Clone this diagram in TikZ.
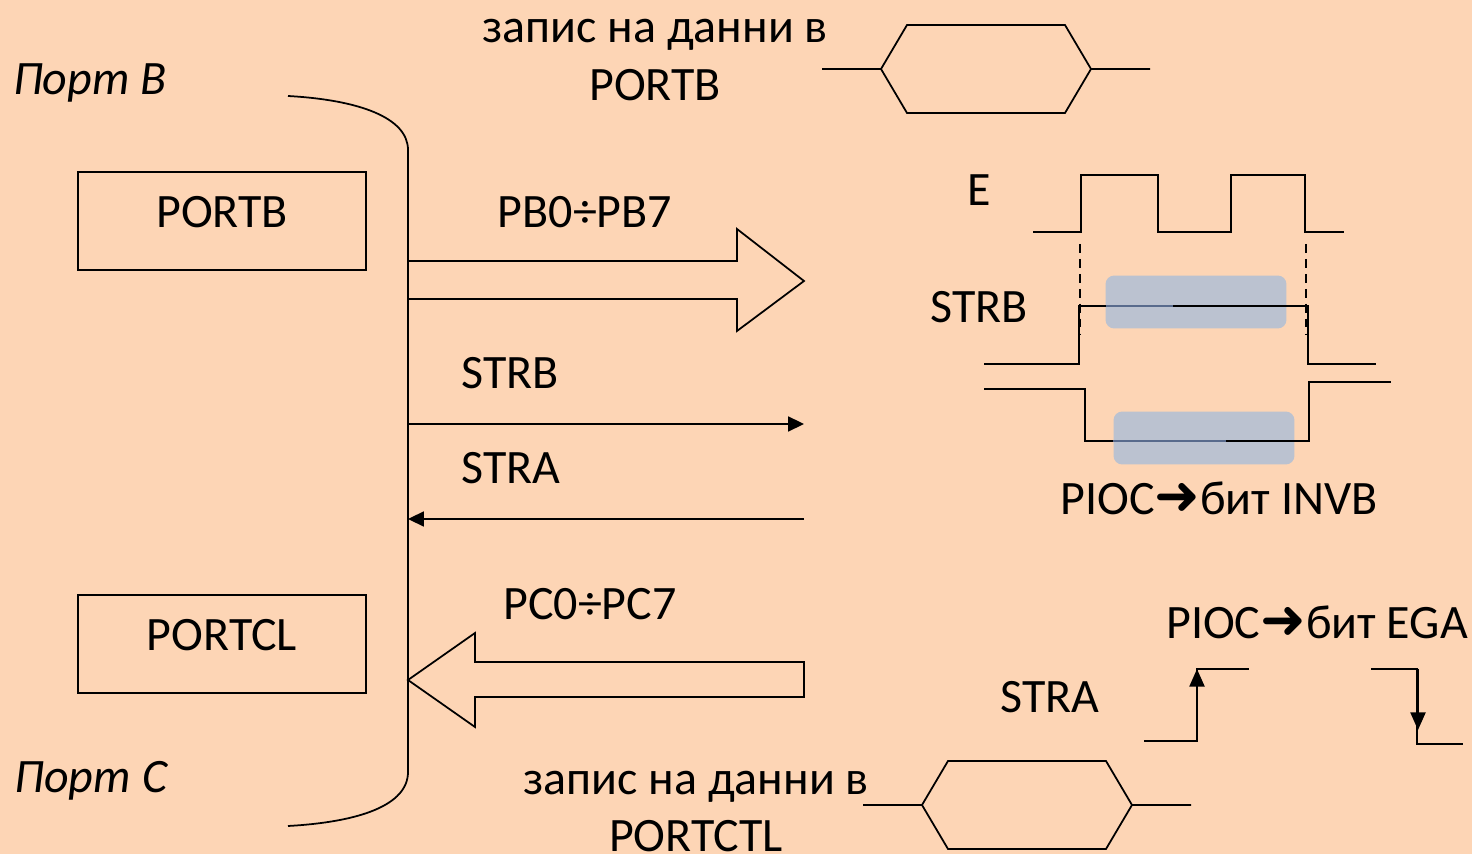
\documentclass[tikz,border=0pt]{standalone}
\usepackage{fontspec}
\setmainfont{Carlito}
\newfontfamily\arrowfont{DejaVu Sans}
\usetikzlibrary{arrows.meta,positioning,calc}
\definecolor{bgpeach}{RGB}{253,213,181}
\definecolor{hilite}{RGB}{187,194,208}
\definecolor{hiline}{RGB}{88,106,140}
\newcommand{\piarrow}{{\arrowfont\fontsize{31}{31}\selectfont ➜}}
\tikzset{
	txt/.style={inner sep=0pt,font=\fontsize{27.3}{30}\selectfont},
	ltxt/.style={txt,font=\fontsize{27.3}{30}\selectfont\itshape},
	regbox/.style={draw,line width=1pt,minimum width=5.76cm,minimum height=1.96cm,inner sep=0pt},
	wire/.style={line width=1pt},
	sig/.style={wire,-{Triangle[length=9pt,width=8.5pt]}},
	tsig/.style={line width=1.3pt,-{Triangle[length=10pt,width=8.5pt]}},
	hibox/.style={fill=hilite,rounded corners=5pt,inner sep=0pt,minimum width=3.62cm,minimum height=1.06cm}
}
\begin{document}
\begin{tikzpicture}[x=0.02cm,y=-0.02cm]
	\useasboundingbox[fill=bgpeach] (0,0) rectangle (1472,854);
	% highlights first
	\node[hibox] (hiA) at (1196,302) {};
	\node[hibox] (hiB) at (1204,438) {};
	% labels
	\node[ltxt] (portb) at (90,83) {Порт B};
	\node[ltxt] (portc) at (91,781) {Порт C};
	\node[regbox] (regB) at (222,221) {};
	\node[txt] at (222,212) {PORTB};
	\node[regbox] (regC) at (222,644) {};
	\node[txt] at (222,635) {PORTCL};
	\node[txt] (wrB1) at (655,35) {запис на данни в};
	\node[txt] (wrB2) at (655,85) {PORTB};
	\node[txt] (wrC1) at (696,787) {запис на данни в};
	\node[txt] (wrC2) at (696,836) {PORTCTL};
	\node[txt] (pb) at (585,212) {PB0÷PB7};
	\node[txt] (pc) at (590,604) {PC0÷PC7};
	\node[txt] (strbL) at (510,373) {STRB};
	\node[txt] (straL) at (511,468) {STRA};
	\node[txt] (eT) at (979,190) {E};
	\node[txt] (strbT) at (979,307) {STRB};
	\node[txt] (straT) at (1050,697) {STRA};
	\node[txt] (invb) at (1219,498) {PIOC\piarrow бит INVB};
	\node[txt] (ega) at (1317,622) {PIOC\piarrow бит EGA};
	% bus line
	\coordinate (busT) at (288,96);
	\coordinate (busB) at (288,826);
	\draw[wire] (busT) .. controls (360,100) and (408,118) .. (408,150) -- (408,772) .. controls (408,805) and (360,822) .. (busB);
	% big arrows
	\draw[wire] (408,261) -- (737,261) -- (737,229) -- (804,281) -- (737,331) -- (737,299) -- (408,299);
	\draw[wire] (408,680) -- (475,633) -- (475,662) -- (804,662) -- (804,697) -- (475,697) -- (475,727) -- cycle;
	% strobes
	\coordinate (sbA) at (408,424);
	\coordinate (sbB) at (804,424);
	\coordinate (saA) at (804,519);
	\coordinate (saB) at (408,519);
	\draw[sig] (sbA) -- (sbB);
	\draw[sig] (saA) -- (saB);
	% data windows
	\draw[wire] (822,69) -- (881,69) -- (907,25) -- (1065,25) -- (1091,69) -- (1150,69);
	\draw[wire] (881,69) -- (907,113) -- (1065,113) -- (1091,69);
	\draw[wire] (863,805) -- (922,805) -- (948,761) -- (1106,761) -- (1132,805) -- (1191,805);
	\draw[wire] (922,805) -- (948,849) -- (1106,849) -- (1132,805);
	% timing E
	\draw[wire] (1033,232) -- (1081,232) -- (1081,175) -- (1158,175) -- (1158,232) -- (1231,232) -- (1231,175) -- (1305,175) -- (1305,232) -- (1344,232);
	\draw[wire,dash pattern=on 5pt off 3.5pt] (1080,244) -- (1080,335);
	\draw[wire,dash pattern=on 5pt off 3.5pt] (1306,244) -- (1306,335);
	% timing STRB
	\draw[wire] (984,364) -- (1079,364) -- (1079,306) -- (1308,306) -- (1308,364) -- (1376,364);
	\draw[wire] (984,389) -- (1085,389) -- (1085,441) -- (1309,441) -- (1309,382) -- (1391,382);
	\draw[wire,hiline] (1106,306) -- (1173,306);
	\draw[wire,hiline] (1113,441) -- (1226,441);
	% timing STRA
	\draw[wire] (1144,741) -- (1197,741) -- (1197,669) -- (1249,669);
	\draw[wire] (1371,669) -- (1417,669) -- (1417,744) -- (1463,744);
	\coordinate (upA) at (1197,730);
	\coordinate (upB) at (1197,669);
	\coordinate (dnA) at (1418,669);
	\coordinate (dnB) at (1418,730);
	\draw[tsig] (upA) -- (upB);
	\draw[tsig] (dnA) -- (dnB);
\end{tikzpicture}
\end{document}
